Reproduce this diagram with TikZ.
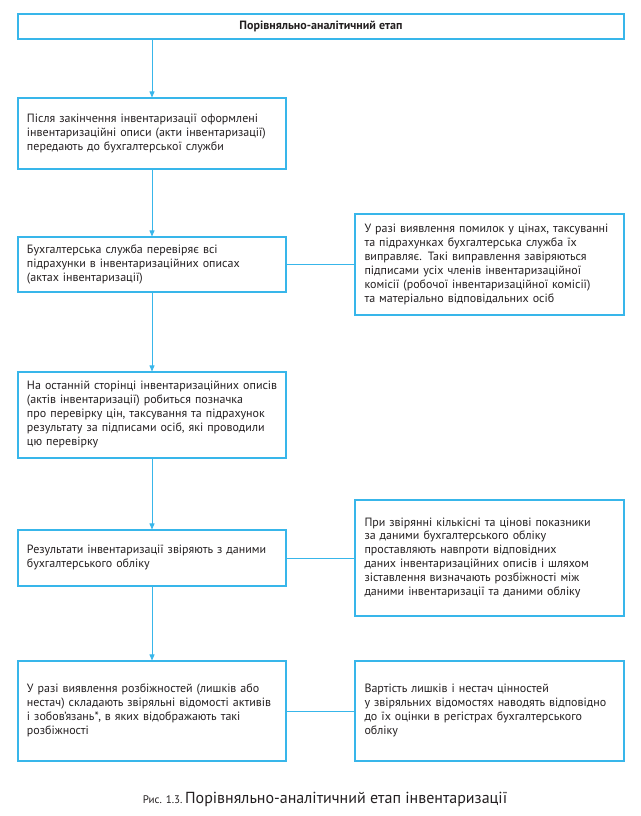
\documentclass[tikz,border=0pt]{standalone}
\usepackage{fontspec}
\setmainfont{PT Sans}
\usetikzlibrary{arrows.meta}
\definecolor{lineblue}{HTML}{38B6EA}
\definecolor{txt}{HTML}{231F20}
\newcommand{\blines}[1]{\begin{tabular}{@{}l@{}}#1\end{tabular}}
\begin{document}
\begin{tikzpicture}[x=1pt,y=-1pt,
  every node/.style={font=\fontsize{12}{13.9}\selectfont, text=txt},
  box/.style={draw=lineblue, line width=1.1pt, rectangle, inner xsep=9pt, inner ysep=0pt,
     minimum width=268pt, text width=250pt, align=left},
  rbox/.style={box, minimum width=269pt},
  link/.style={draw=lineblue, line width=0.8pt},
  arr/.style={link, -{Triangle[width=5pt,length=6pt]}}
]
\useasboundingbox (0,0) rectangle (640,816);

\node[draw=lineblue, line width=1.1pt, minimum width=606pt, minimum height=25pt, inner sep=0pt,
      font=\fontsize{12}{13.9}\selectfont\bfseries] (top) at (321,26.5) {Порівняльно-аналітичний етап};

\node[box, minimum height=71pt] (A) at (152,133.5)
 {\blines{Після закінчення інвентаризації оформлені\\
  інвентаризаційні описи (акти інвентаризації)\\
  передають до бухгалтерської служби}};

\node[box, minimum height=55pt] (B) at (152,264.5)
 {\blines{Бухгалтерська служба перевіряє всі\\
  підрахунки в інвентаризаційних описах\\
  (актах інвентаризації)}};

\node[rbox, minimum height=101pt] (R1) at (489.5,264.5)
 {\blines{У разі виявлення помилок у цінах, таксуванні\\
  та підрахунках бухгалтерська служба їх\\
  виправляє. Такі виправлення завіряються\\
  підписами усіх членів інвентаризаційної\\
  комісії (робочої інвентаризаційної комісії)\\
  та матеріально відповідальних осіб}};

\node[box, minimum height=86pt] (C) at (152,415)
 {\blines{На останній сторінці інвентаризаційних описів\\
  (актів інвентаризації) робиться позначка\\
  про перевірку цін, таксування та підрахунок\\
  результату за підписами осіб, які проводили\\
  цю перевірку}};

\node[box, minimum height=56pt] (D) at (152,558)
 {\blines{Результати інвентаризації звіряють з даними\\
  бухгалтерського обліку}};

\node[rbox, minimum height=116pt] (R2) at (489.5,558)
 {\blines{При звірянні кількісні та цінові показники\\
  за даними бухгалтерського обліку\\
  проставляють навпроти відповідних\\
  даних інвентаризаційних описів і шляхом\\
  зіставлення визначають розбіжності між\\
  даними інвентаризації та даними обліку}};

\node[box, minimum height=100pt] (E) at (152,711)
 {\blines{У разі виявлення розбіжностей (лишків або\\
  нестач) складають звіряльні відомості активів\\
  і зобов’язань*, в яких відображають такі\\
  розбіжності}};

\node[rbox, minimum height=100pt] (R3) at (489.5,711)
 {\blines{Вартість лишків і нестач цінностей\\
  у звіряльних відомостях наводять відповідно\\
  до їх оцінки в регістрах бухгалтерського\\
  обліку}};

\node[font=\fontsize{16}{18}\selectfont] (cap) at (325,799)
 {{\fontsize{11}{13}\selectfont Рис. 1.3.}\,Порівняльно-аналітичний етап інвентаризації};

\draw[arr] (A.north |- top.south) -- (A.north);
\draw[arr] (A.south) -- (B.north);
\draw[arr] (B.south) -- (C.north);
\draw[arr] (C.south) -- (D.north);
\draw[arr] (D.south) -- (E.north);
\draw[link] (B.east) -- (R1.west);
\draw[link] (D.east) -- (R2.west);
\draw[link] (E.east) -- (R3.west);
\end{tikzpicture}
\end{document}
